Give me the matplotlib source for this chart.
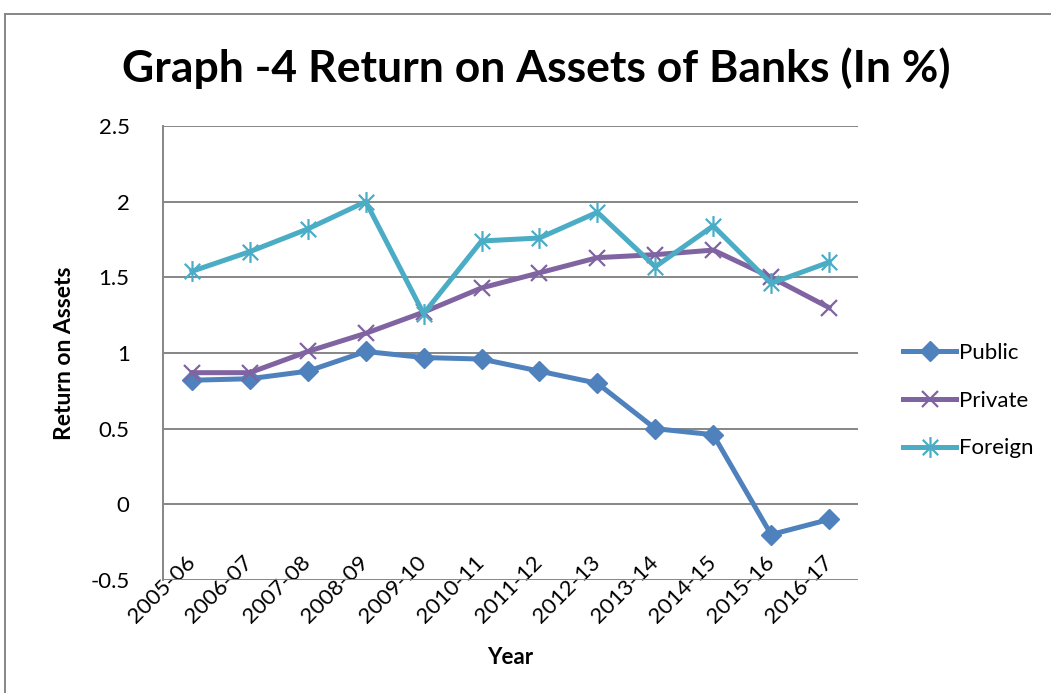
import matplotlib
matplotlib.use("Agg")
import matplotlib.pyplot as plt
from matplotlib.path import Path
from matplotlib.lines import Line2D

years = ["2005-06", "2006-07", "2007-08", "2008-09", "2009-10", "2010-11",
         "2011-12", "2012-13", "2013-14", "2014-15", "2015-16", "2016-17"]
public = [0.82, 0.83, 0.88, 1.01, 0.97, 0.96, 0.88, 0.80, 0.50, 0.46, -0.20, -0.10]
private = [0.87, 0.87, 1.01, 1.13, 1.27, 1.43, 1.53, 1.63, 1.65, 1.68, 1.50, 1.30]
foreign = [1.54, 1.67, 1.82, 2.00, 1.26, 1.74, 1.76, 1.93, 1.57, 1.84, 1.46, 1.60]
y_ticks = [-0.5, 0, 0.5, 1, 1.5, 2, 2.5]
y_tick_labels = ["-0.5", "0", "0.5", "1", "1.5", "2", "2.5"]

plt.rcParams["font.family"] = ["Lato", "DejaVu Sans"]

W, H = 1051, 693
fig = plt.figure(figsize=(W / 100, H / 100), dpi=100)
ax = fig.add_axes([163 / W, 1 - 580 / H, (858 - 163) / W, (580 - 126) / H])

# star marker: an X crossed with a vertical bar
star = Path([(-1, -1), (1, 1), (-1, 1), (1, -1), (0, -1.35), (0, 1.35)],
            [Path.MOVETO, Path.LINETO, Path.MOVETO, Path.LINETO, Path.MOVETO, Path.LINETO])

x = list(range(len(years)))
ax.plot(x, public, color="#4F81BD", lw=3.6, marker="D", ms=10,
        mfc="#4F81BD", mec="#4F81BD", label="Public", zorder=3)
ax.plot(x, private, color="#8064A2", lw=3.6, marker="x", ms=12, mew=1.6,
        mec="#8064A2", label="Private", zorder=3)
ax.plot(x, foreign, color="#4BACC6", lw=3.6, marker=star, ms=15, mew=1.6,
        mec="#4BACC6", label="Foreign", zorder=3)

ax.set_xlim(-0.5, len(years) - 0.5)
ax.set_ylim(-0.5, 2.5)
ax.set_yticks(y_ticks)
ax.set_yticklabels(y_tick_labels, fontsize=16)
ax.set_xticks(x)
ax.set_xticklabels(years, fontsize=16, rotation=45, ha="right", va="center",
                   rotation_mode="anchor")
for lbl in ax.get_xticklabels():
    lbl.set_y(0.045)
ax.tick_params(axis="both", length=0, pad=0)
ax.tick_params(axis="y", pad=24)
ax.grid(axis="y", color="#868686", lw=1.4)
ax.set_axisbelow(True)
for s in ["top", "right", "bottom"]:
    ax.spines[s].set_visible(False)
ax.spines["left"].set_color("#868686")
ax.spines["left"].set_linewidth(1.4)

ax.set_ylabel("Return on Assets", fontsize=16.5, fontweight="bold", labelpad=11)
ax.set_xlabel("Year", fontsize=16, fontweight="bold", labelpad=14)

fig.text(536 / W, 1 - 68 / H, "Graph -4 Return on Assets of Banks (In %)",
         fontsize=32, fontweight="bold", ha="center", va="center")

leg = ax.legend(loc="center left", bbox_to_anchor=(1.036, 0.395), frameon=False,
                fontsize=16, handlelength=2.4, labelspacing=1.25,
                handletextpad=0.1)

# outer chart frame
fig.add_artist(Line2D([5 / W, 5 / W], [0, 1 - 14 / H], color="#868686", lw=1.4,
                      transform=fig.transFigure))
fig.add_artist(Line2D([5 / W, 1], [1 - 14 / H, 1 - 14 / H], color="#868686", lw=1.4,
                      transform=fig.transFigure))

fig.savefig("out.png", dpi=100, facecolor="white")
